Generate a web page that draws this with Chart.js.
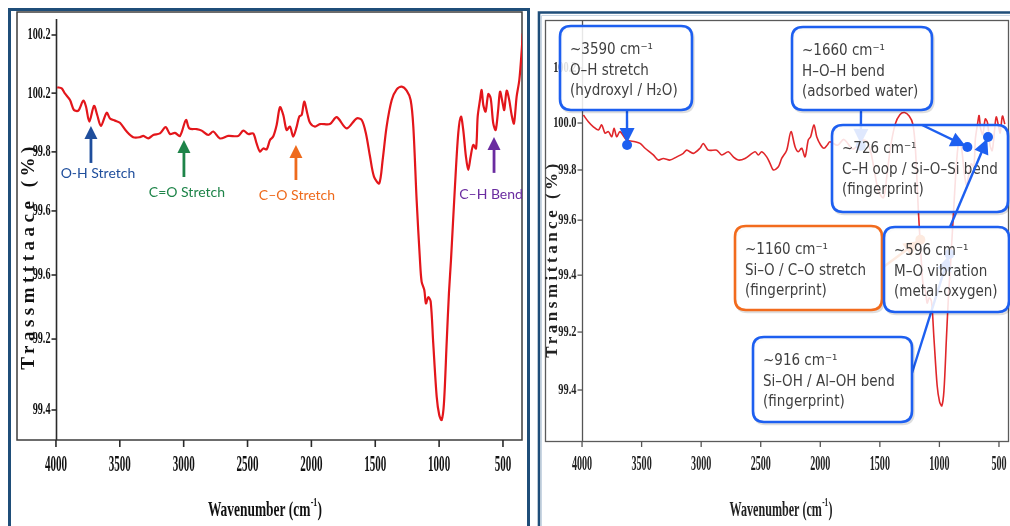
<!DOCTYPE html>
<html><head><meta charset="utf-8">
<script src="https://cdn.jsdelivr.net/npm/chart.js@4.4.1/dist/chart.umd.min.js"></script>
<style>
html,body{margin:0;padding:0;background:#fff;width:1010px;height:526px;overflow:hidden;}
#c1{position:absolute;left:0;top:0;}
#c2{position:absolute;left:536px;top:0;}
</style></head><body>
<canvas id="c1" width="536" height="526"></canvas>
<canvas id="c2" width="474" height="526"></canvas>
<script>
// ---------------- DATA ----------------
const xTickValues = [4000, 3500, 3000, 2500, 2000, 1500, 1000, 500];
const xTickLabels = ['4000', '3500', '3000', '2500', '2000', '1500', '1000', '500'];

const leftYTickValues = [100.4, 100.214, 100.026, 99.837, 99.632, 99.427, 99.2];
const leftYTickLabels = ['100.2', '100.2', '99.8', '99.6', '99.6', '99.2', '99.4'];

const rightYTickValues = [100.2, 99.995, 99.82, 99.633, 99.428, 99.216, 99.0];
const rightYTickLabels = ['100.2', '100.0', '99.8', '99.6', '99.4', '99.2', '99.4'];

const leftWavenumber = [3990,3955,3930,3890,3859,3825,3786,3765,3739,3702,3677,3648,3603,3577,3538,3499,3446,3395,3342,3316,3277,3238,3186,3141,3107,3068,3029,2982,2956,2898,2859,2807,2768,2716,2651,2573,2533,2494,2455,2429,2403,2377,2350,2324,2299,2272,2246,2220,2194,2168,2142,2115,2095,2076,2056,2032,2011,1972,1933,1855,1802,1724,1646,1606,1573,1541,1510,1469,1442,1411,1371,1332,1293,1254,1223,1202,1176,1150,1137,1116,1103,1085,1066,1046,1019,999,980,962,941,923,907,876,850,829,811,790,772,753,733,711,698,680,667,654,636,615,596,576,557,537,523,502,490,471,451,432,414,393,372,353,345];
const leftTransmittance = [100.233,100.229,100.213,100.192,100.160,100.158,100.190,100.171,100.123,100.173,100.144,100.109,100.151,100.133,100.126,100.119,100.091,100.073,100.073,100.077,100.069,100.080,100.085,100.105,100.083,100.087,100.077,100.128,100.101,100.099,100.094,100.080,100.091,100.069,100.077,100.077,100.094,100.083,100.085,100.053,100.027,100.037,100.034,100.064,100.075,100.112,100.169,100.144,100.096,100.107,100.075,100.107,100.139,100.144,100.187,100.149,100.119,100.107,100.115,100.115,100.137,100.101,100.133,100.128,100.085,100.011,99.947,99.925,100.000,100.107,100.192,100.226,100.235,100.222,100.192,100.107,99.872,99.680,99.611,99.584,99.541,99.561,99.547,99.414,99.243,99.184,99.168,99.222,99.414,99.574,99.680,99.915,100.086,100.139,100.096,100.011,99.968,100.011,100.048,100.037,100.139,100.192,100.224,100.176,100.155,100.211,100.197,100.117,100.096,100.163,100.219,100.181,100.160,100.222,100.192,100.144,100.117,100.203,100.256,100.352,100.405];

const rightWavenumber = [3989,3947,3905,3863,3835,3807,3779,3751,3731,3709,3681,3625,3555,3513,3471,3402,3360,3318,3261,3205,3150,3121,3066,3010,2982,2940,2869,2827,2772,2730,2688,2632,2548,2520,2492,2450,2422,2394,2352,2324,2282,2246,2212,2185,2156,2128,2101,2081,2053,2030,1997,1969,1941,1919,1855,1802,1724,1646,1606,1573,1541,1510,1469,1442,1411,1371,1332,1293,1254,1223,1202,1176,1150,1137,1116,1103,1085,1066,1046,1019,999,980,962,941,923,907,876,850,829,811,790,772,753,733,711,698,680,667,654,636,615,596,576,557,537,523,502,490,471,451];
const rightTransmittance = [100.025,100.000,99.981,99.969,99.988,99.957,99.963,99.944,99.975,99.944,99.963,99.932,99.925,99.919,99.901,99.876,99.857,99.863,99.857,99.869,99.882,99.894,99.882,99.901,99.919,99.894,99.894,99.876,99.888,99.869,99.857,99.863,99.888,99.876,99.888,99.869,99.845,99.820,99.832,99.863,99.894,99.963,99.907,99.888,99.901,99.869,99.932,99.944,99.988,99.944,99.913,99.901,99.913,99.925,99.912,99.934,99.898,99.931,99.925,99.881,99.805,99.739,99.717,99.794,99.903,99.991,100.026,100.034,100.021,99.991,99.903,99.663,99.466,99.395,99.367,99.324,99.344,99.329,99.194,99.017,98.957,98.941,98.997,99.194,99.358,99.466,99.706,99.882,99.936,99.892,99.805,99.761,99.805,99.843,99.832,99.936,99.991,100.023,99.974,99.952,100.010,99.996,99.914,99.892,99.969,100.018,99.980,99.958,100.021,99.991];

// left panel arrow labels (anchor in data units)
const leftBandNames = ['O-H Stretch', 'C=O Stretch', 'C\u2013O Stretch', 'C\u2013H Bend'];
const leftBandWavenumber = [3726, 2998, 2121, 570];
const leftBandTip = [100.109, 100.064, 100.048, 100.074];

// right panel callouts (anchor in data units)
const rightNoteLines = [
  ['~3590 cm\u207B\u00B9', 'O\u2013H stretch', '(hydroxyl / H\u2082O)'],
  ['~1660 cm\u207B\u00B9', 'H\u2013O\u2013H bend', '(adsorbed water)'],
  ['~1160 cm\u207B\u00B9', 'Si\u2013O / C\u2013O stretch', '(fingerprint)'],
  ['~916 cm\u207B\u00B9', 'Si\u2013OH / Al\u2013OH bend', '(fingerprint)'],
  ['~726 cm\u207B\u00B9', 'C\u2013H oop / Si\u2013O\u2013Si bend', '(fingerprint)'],
  ['~596 cm\u207B\u00B9', 'M\u2013O vibration', '(metal-oxygen)']
];
const rightNoteWavenumber = [3622, 1660, 1160, 916, 765, 592];
const rightNoteTransmittance = [99.913, 99.91, 99.56, 99.507, 99.906, 99.943];

// ---------------- STYLE / LAYOUT ----------------
const NAVY = '#1f4e79';
const BLUE = '#1d5ff0';
const ORANGE = '#f26b1d';
const leftBandColors = ['#1f4e9c', '#1e8449', '#ee6a1c', '#6a2ca0'];
const leftBandLayout = [{len:37,dx:7,dy:48},{len:37,dx:3,dy:52},{len:35,dx:1,dy:50},{len:36,dx:-3,dy:58}];
const RIGHT_OX = 536;
// box [left, top, right, bottom] and line start in page pixels
const rightNoteLayout = [
  {box:[560,26,692,110], from:[627,110], color:BLUE, layer:0},
  {box:[792,27,932,110], from:[861,110], color:BLUE, layer:0},
  {box:[735,226,882,310], from:[882,268], color:ORANGE, layer:0},
  {box:[753,337,912,422], from:[912,373], color:BLUE, layer:0},
  {box:[832,125,1008,212], from:[922,125], color:BLUE, layer:1},
  {box:[884,227,1009,312], from:[950,227], color:BLUE, layer:1}
];
const boxOrder = [0,1,4,2,3,5];

const SERIF = '"Liberation Serif","Times New Roman",serif';

function condText(ctx, text, x, y, font, sx, align, color) {
  ctx.save();
  ctx.font = font; ctx.fillStyle = color; ctx.textBaseline = 'middle';
  ctx.translate(x, y); ctx.scale(sx, 1);
  ctx.textAlign = align;
  ctx.fillText(text, 0, 0);
  ctx.restore();
}
function condTitle(ctx, cx, cy, size, sx, color) {
  ctx.save();
  ctx.fillStyle = color; ctx.textBaseline = 'middle'; ctx.textAlign = 'left';
  const f1 = 'bold ' + size + 'px ' + SERIF;
  const f2 = 'bold ' + Math.round(size*0.58) + 'px ' + SERIF;
  ctx.font = f1; const w1 = ctx.measureText('Wavenumber (cm').width; const w3 = ctx.measureText(')').width;
  ctx.font = f2; const w2 = ctx.measureText('-1').width;
  const total = (w1 + w2 + w3 + 1) * sx;
  ctx.translate(cx - total/2, cy); ctx.scale(sx, 1);
  ctx.font = f1; ctx.fillText('Wavenumber (cm', 0, 0);
  ctx.font = f2; ctx.fillText('-1', w1 + 0.5, -size*0.33);
  ctx.font = f1; ctx.fillText(')', w1 + w2 + 1, 0);
  ctx.restore();
}
function rotTitle(ctx, text, cx, cy, font, spacing, color) {
  ctx.save();
  ctx.translate(cx, cy); ctx.rotate(-Math.PI/2);
  ctx.font = font; ctx.fillStyle = color;
  ctx.textAlign = 'center'; ctx.textBaseline = 'middle';
  try { ctx.letterSpacing = spacing; } catch(e) {}
  ctx.fillText(text, 0, 0);
  ctx.restore();
}
function roundRect(ctx, x, y, w, h, r) {
  ctx.beginPath();
  ctx.moveTo(x+r, y); ctx.lineTo(x+w-r, y); ctx.quadraticCurveTo(x+w, y, x+w, y+r);
  ctx.lineTo(x+w, y+h-r); ctx.quadraticCurveTo(x+w, y+h, x+w-r, y+h);
  ctx.lineTo(x+r, y+h); ctx.quadraticCurveTo(x, y+h, x, y+h-r);
  ctx.lineTo(x, y+r); ctx.quadraticCurveTo(x, y, x+r, y);
  ctx.closePath();
}

// ---------------- LEFT PANEL PLUGIN ----------------
const leftPanel = {
  id: 'leftPanel',
  beforeDatasetsDraw(chart) {
    const ctx = chart.ctx, xs = chart.scales.x, ys = chart.scales.y, a = chart.chartArea;
    ctx.save();
    ctx.strokeStyle = NAVY; ctx.lineWidth = 3;
    ctx.beginPath(); ctx.moveTo(9.5, 530); ctx.lineTo(9.5, 9.5); ctx.lineTo(528.5, 9.5); ctx.lineTo(528.5, 530); ctx.stroke();
    ctx.strokeStyle = '#3c3c3c'; ctx.lineWidth = 1.5;
    ctx.strokeRect(a.left, a.top - 1, a.right - a.left, a.bottom - a.top + 1);
    const ax = Math.round(xs.getPixelForValue(4000)) + 0.5;
    ctx.strokeStyle = '#2a2a2a'; ctx.lineWidth = 1.6;
    ctx.beginPath(); ctx.moveTo(ax, a.top + 6); ctx.lineTo(ax, a.bottom); ctx.stroke();
    leftYTickValues.forEach((v, i) => {
      const py = ys.getPixelForValue(v);
      ctx.beginPath(); ctx.moveTo(ax - 5, py); ctx.lineTo(ax, py); ctx.stroke();
      condText(ctx, leftYTickLabels[i], ax - 6, py, 'bold 17px ' + SERIF, 0.6, 'right', '#111');
    });
    xTickValues.forEach((v, i) => {
      const px = xs.getPixelForValue(v);
      ctx.beginPath(); ctx.moveTo(px, a.bottom); ctx.lineTo(px, a.bottom + 7); ctx.stroke();
      condText(ctx, xTickLabels[i], px, 465, 'bold 23px ' + SERIF, 0.48, 'center', '#111');
    });
    condTitle(ctx, 265, 510, 22, 0.61, '#111');
    rotTitle(ctx, 'Trassmtttaace (%)', 29, 256, 'bold 19px ' + SERIF, '4.5px', '#111');
    ctx.restore();
  },
  afterDatasetsDraw(chart) {
    const ctx = chart.ctx, xs = chart.scales.x, ys = chart.scales.y;
    ctx.save();
    leftBandNames.forEach((name, i) => {
      const L = leftBandLayout[i], col = leftBandColors[i];
      const px = xs.getPixelForValue(leftBandWavenumber[i]);
      const py = ys.getPixelForValue(leftBandTip[i]);
      ctx.strokeStyle = col; ctx.fillStyle = col; ctx.lineWidth = 2.8;
      ctx.beginPath(); ctx.moveTo(px, py + 10); ctx.lineTo(px, py + L.len); ctx.stroke();
      ctx.beginPath(); ctx.moveTo(px, py); ctx.lineTo(px - 6.5, py + 13); ctx.lineTo(px + 6.5, py + 13); ctx.closePath(); ctx.fill();
      ctx.font = '14px Lato, "Open Sans", sans-serif';
      ctx.textAlign = 'center'; ctx.textBaseline = 'middle';
      ctx.fillText(name, px + L.dx, py + L.dy);
    });
    ctx.restore();
  }
};

// ---------------- RIGHT PANEL PLUGIN ----------------
function noteLine(ctx, chart, i) {
  const L = rightNoteLayout[i];
  const ex = chart.scales.x.getPixelForValue(rightNoteWavenumber[i]);
  const ey = chart.scales.y.getPixelForValue(rightNoteTransmittance[i]);
  const sx = L.from[0] - RIGHT_OX, sy = L.from[1];
  ctx.save();
  ctx.strokeStyle = L.color; ctx.fillStyle = L.color; ctx.lineWidth = 2.4;
  ctx.beginPath(); ctx.moveTo(sx, sy); ctx.lineTo(ex, ey); ctx.stroke();
  const ang = Math.atan2(ey - sy, ex - sx);
  const tx = ex - 2*Math.cos(ang), ty = ey - 2*Math.sin(ang);
  const bx = tx - 15*Math.cos(ang), by = ty - 15*Math.sin(ang);
  const nx = -Math.sin(ang) * 7.5, ny = Math.cos(ang) * 7.5;
  ctx.beginPath(); ctx.moveTo(tx, ty); ctx.lineTo(bx + nx, by + ny); ctx.lineTo(bx - nx, by - ny); ctx.closePath(); ctx.fill();
  ctx.beginPath(); ctx.arc(ex, ey, 5, 0, Math.PI*2); ctx.fill();
  ctx.restore();
}
function noteBox(ctx, i) {
  const L = rightNoteLayout[i];
  const [x0, y0, x1, y1] = L.box;
  const x = x0 - RIGHT_OX;
  ctx.save();
  // soft edge shadow (outline only, no fill tint)
  roundRect(ctx, x + 1.5, y0 + 2, x1 - x0, y1 - y0, 11);
  ctx.strokeStyle = 'rgba(0,0,0,0.13)'; ctx.lineWidth = 2.5; ctx.stroke();
  roundRect(ctx, x, y0, x1 - x0, y1 - y0, 11);
  ctx.fillStyle = 'rgba(255,255,255,0.86)'; ctx.fill();
  ctx.strokeStyle = L.color; ctx.lineWidth = 2.6; ctx.stroke();
  ctx.fillStyle = '#404040';
  ctx.font = '15px "DejaVu Sans Condensed", "DejaVu Sans", sans-serif';
  ctx.textAlign = 'left'; ctx.textBaseline = 'middle';
  rightNoteLines[i].forEach((t, k) => ctx.fillText(t, x + 10, y0 + 24 + k*20.7));
  ctx.restore();
}
const rightPanel = {
  id: 'rightPanel',
  beforeDatasetsDraw(chart) {
    const ctx = chart.ctx, xs = chart.scales.x, ys = chart.scales.y, a = chart.chartArea;
    ctx.save();
    ctx.strokeStyle = NAVY; ctx.lineWidth = 2.6;
    ctx.beginPath(); ctx.moveTo(3, 530); ctx.lineTo(3, 12.5); ctx.lineTo(480, 12.5); ctx.stroke();
    ctx.strokeStyle = '#c9d6e3'; ctx.lineWidth = 1;
    ctx.beginPath(); ctx.moveTo(5.5, 530); ctx.lineTo(5.5, 15.5); ctx.lineTo(480, 15.5); ctx.stroke();
    ctx.strokeStyle = '#5a5a5a'; ctx.lineWidth = 1.3;
    ctx.strokeRect(a.left + 0.5, a.top + 0.5, (1008 - RIGHT_OX) - a.left, a.bottom - a.top);
    const ax = Math.round(xs.getPixelForValue(4000)) + 0.5;
    ctx.strokeStyle = '#555'; ctx.lineWidth = 1.3;
    ctx.beginPath(); ctx.moveTo(ax, a.top); ctx.lineTo(ax, a.bottom); ctx.stroke();
    rightYTickValues.forEach((v, i) => {
      const py = ys.getPixelForValue(v);
      ctx.beginPath(); ctx.moveTo(ax - 5, py); ctx.lineTo(ax, py); ctx.stroke();
      condText(ctx, rightYTickLabels[i], ax - 6, py, 'bold 14px ' + SERIF, 0.74, 'right', '#222');
    });
    xTickValues.forEach((v, i) => {
      const px = xs.getPixelForValue(v);
      ctx.beginPath(); ctx.moveTo(px, a.bottom); ctx.lineTo(px, a.bottom + 6); ctx.stroke();
      condText(ctx, xTickLabels[i], px, 465, 'bold 21px ' + SERIF, 0.48, 'center', '#222');
    });
    condTitle(ctx, 781 - RIGHT_OX, 510, 22, 0.55, '#222');
    rotTitle(ctx, 'Transmittance (%)', 553 - RIGHT_OX, 259, 'bold 17px ' + SERIF, '3.5px', '#222');
    ctx.restore();
  },
  afterDatasetsDraw(chart) {
    const ctx = chart.ctx;
    rightNoteLayout.forEach((L, i) => { if (L.layer === 0) noteLine(ctx, chart, i); });
    boxOrder.forEach(i => noteBox(ctx, i));
    rightNoteLayout.forEach((L, i) => { if (L.layer === 1) noteLine(ctx, chart, i); });
  }
};

// ---------------- CHARTS ----------------
function makeChart(id, wn, tr, xMin, xMax, yMin, yMax, pad, color, width, plugin) {
  return new Chart(document.getElementById(id), {
    type: 'line',
    data: { datasets: [{
      data: wn.map((x, i) => ({ x: x, y: tr[i] })),
      borderColor: color, borderWidth: width, pointRadius: 0, tension: 0.3, fill: false
    }]},
    options: {
      responsive: false, animation: false, devicePixelRatio: 1,
      layout: { padding: pad },
      plugins: { legend: { display: false }, tooltip: { enabled: false }, title: { display: false } },
      scales: {
        x: { type: 'linear', reverse: true, min: xMin, max: xMax, display: false },
        y: { type: 'linear', min: yMin, max: yMax, display: false }
      }
    },
    plugins: [plugin]
  });
}
makeChart('c1', leftWavenumber, leftTransmittance, 351, 4305, 99.104, 100.4704,
  { left: 17, right: 14, top: 13, bottom: 86 }, '#e3161b', 2.2, leftPanel);
makeChart('c2', rightWavenumber, rightTransmittance, 441, 4311, 98.810, 100.379,
  { left: 9, right: 4, top: 20, bottom: 85 }, '#e0262a', 1.6, rightPanel);
</script></body></html>
